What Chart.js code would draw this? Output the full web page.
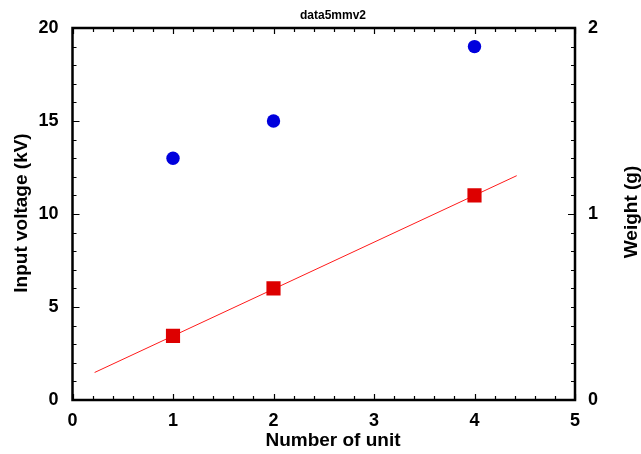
<!DOCTYPE html>
<html>
<head>
<meta charset="utf-8">
<script src="https://cdn.jsdelivr.net/npm/chart.js@4"></script>
<style>
  body { margin: 0; background: #fff; }
  canvas { display: block; }
</style>
</head>
<body>
<canvas id="grafico" width="641" height="454"></canvas>
<script>
// dados
var unidades = [1, 2, 4];
var tensao = [13, 15, 19];          // Input voltage (kV)
var peso = [0.345, 0.6, 1.1];       // Weight (g)
var ajusteX = [0.22, 4.42];         // reta de ajuste
var ajusteY = [0.148, 1.206];
var ticksX = [0, 1, 2, 3, 4, 5];
var ticksTensao = [0, 5, 10, 15, 20];
var ticksPeso = [0, 1, 2];

var fonte = "'Liberation Sans', Arial, sans-serif";

function pontos(xs, ys) {
    return xs.map((x, i) => ({ x: x, y: ys[i] }))
}

// moldura, marcas para dentro e titulos
var moldura = {
    id: 'moldura',
    afterDraw(chart) {
        var ctx = chart.ctx
        var a = chart.chartArea
        var sx = chart.scales.x, sy = chart.scales.y, sy2 = chart.scales.y2
        ctx.save()
        ctx.strokeStyle = '#000'
        ctx.lineWidth = 1.2
        ctx.beginPath()
        // eixo x: menor a cada 0.2
        for (var i = 0; i <= 25; i++) {
            var px = Math.round(sx.getPixelForValue(i * 0.2)) + 0.5
            var len = i % 5 == 0 ? 6 : 4
            ctx.moveTo(px, a.bottom); ctx.lineTo(px, a.bottom - len)
            ctx.moveTo(px, a.top); ctx.lineTo(px, a.top + len)
        }
        // eixo esquerdo: menor a cada 1
        for (var j = 0; j <= 20; j++) {
            var py = Math.round(sy.getPixelForValue(j)) + 0.5
            var l2 = j % 5 == 0 ? 7 : 4
            ctx.moveTo(a.left, py); ctx.lineTo(a.left + l2, py)
        }
        // eixo direito: menor a cada 0.1
        for (var k = 0; k <= 20; k++) {
            var py2 = Math.round(sy2.getPixelForValue(k / 10)) + 0.5
            var l3 = k % 10 == 0 ? 7 : 4
            ctx.moveTo(a.right, py2); ctx.lineTo(a.right - l3, py2)
        }
        ctx.stroke()

        ctx.lineWidth = 2.5
        ctx.strokeRect(a.left, a.top, a.right - a.left, a.bottom - a.top)

        // titulos
        ctx.fillStyle = '#000'
        ctx.textAlign = 'center'
        ctx.textBaseline = 'middle'
        ctx.font = 'bold 12px ' + fonte
        ctx.fillText('data5mmv2', 333, 16)
        ctx.font = 'bold 19px ' + fonte
        ctx.fillText('Number of unit', 333, 441)
        ctx.save()
        ctx.translate(22, 213)
        ctx.rotate(-Math.PI / 2)
        ctx.fillText('Input voltage (kV)', 0, 0)
        ctx.restore()
        ctx.save()
        ctx.translate(632, 212)
        ctx.rotate(-Math.PI / 2)
        ctx.fillText('Weight (g)', 0, 0)
        ctx.restore()
        ctx.restore()
    }
}

var fonteTick = { family: fonte, size: 18, weight: 'bold' }

new Chart(document.querySelector('#grafico'), {
    type: 'scatter',
    data: {
        datasets: [
            {
                label: 'Input voltage',
                data: pontos(unidades, tensao),
                yAxisID: 'y',
                pointStyle: 'circle',
                pointRadius: 6.7,
                pointBorderWidth: 0,
                backgroundColor: '#0000dd',
                borderColor: '#0000dd',
                order: 1
            },
            {
                label: 'Weight',
                data: pontos(unidades, peso),
                yAxisID: 'y2',
                pointStyle: 'rect',
                pointRadius: 10,
                pointBorderWidth: 0,
                backgroundColor: '#dd0000',
                borderColor: '#dd0000',
                order: 2
            },
            {
                type: 'line',
                label: 'ajuste',
                data: pontos(ajusteX, ajusteY),
                yAxisID: 'y2',
                borderColor: '#ff1a1a',
                borderWidth: 1,
                pointRadius: 0,
                fill: false,
                order: 3
            }
        ]
    },
    options: {
        responsive: false,
        animation: false,
        layout: { padding: { top: 28, left: 0, right: 0, bottom: 0 } },
        plugins: {
            legend: { display: false },
            tooltip: { enabled: false }
        },
        scales: {
            x: {
                type: 'linear',
                min: 0,
                max: 5,
                afterFit(s) { s.height = 54 },
                afterBuildTicks(s) { s.ticks = ticksX.map(v => ({ value: v })) },
                grid: { display: false, drawTicks: false },
                border: { display: false },
                ticks: { color: '#000', font: fonteTick, padding: 10, maxRotation: 0 }
            },
            y: {
                type: 'linear',
                position: 'left',
                min: 0,
                max: 20,
                afterFit(s) { s.width = 72.5 },
                afterBuildTicks(s) { s.ticks = ticksTensao.map(v => ({ value: v })) },
                grid: { display: false, drawTicks: false },
                border: { display: false },
                ticks: { color: '#000', font: fonteTick, padding: 14 }
            },
            y2: {
                type: 'linear',
                position: 'right',
                min: 0,
                max: 2,
                afterFit(s) { s.width = 66 },
                afterBuildTicks(s) { s.ticks = ticksPeso.map(v => ({ value: v })) },
                grid: { display: false, drawTicks: false },
                border: { display: false },
                ticks: { color: '#000', font: fonteTick, padding: 13 }
            }
        }
    },
    plugins: [moldura]
})
</script>
</body>
</html>
